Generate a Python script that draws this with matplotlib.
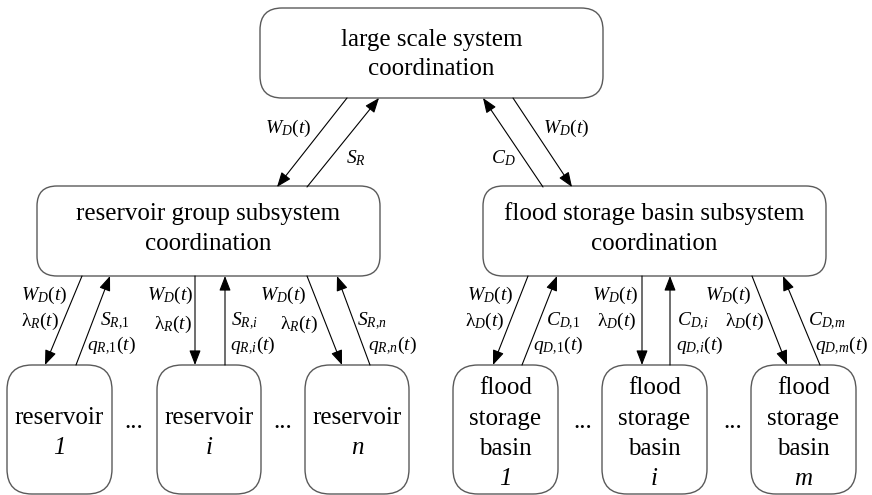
import matplotlib.pyplot as plt
from matplotlib.patches import FancyBboxPatch

plt.rcParams['font.family'] = ['Liberation Serif', 'DejaVu Serif']
plt.rcParams['mathtext.fontset'] = 'custom'
plt.rcParams['mathtext.rm'] = 'Liberation Serif'
plt.rcParams['mathtext.it'] = 'Liberation Serif:italic'
plt.rcParams['mathtext.cal'] = 'Liberation Serif:italic'

# boxes: (x0, y0, x1, y1, rounding), text lines
top_box = (260, 8, 603, 98, 22)
top_lines = ["large scale system", "coordination"]

mid_boxes = [(37, 186, 380, 276, 20), (483, 186, 826, 276, 20)]
mid_lines = [["reservoir group subsystem", "coordination"],
             ["flood storage basin subsystem", "coordination"]]

res_x = [(7, 112), (157, 261), (305, 409)]
res_idx = ["1", "i", "n"]
basin_x = [(453, 558), (602, 707), (751, 856)]
basin_idx = ["1", "i", "m"]
low_y = (365, 494)
dots_x = [134, 283, 583, 733]

# arrows: (x_start, y_start, x_end, y_end) arrow head at end
top_arrows = [(347, 98, 277, 187), (307, 187, 379, 98),
              (543, 187, 483, 98), (513, 98, 572, 187)]
top_labels = [(288, 128, r"$W_D(t)$"), (356, 158, r"$S_R$"),
              (503, 158, r"$C_D$"), (566, 128, r"$W_D(t)$")]

low_arrows = [(82, 276, 45, 365), (76, 365, 110, 276),
              (195, 276, 195, 365), (225, 365, 225, 276),
              (307, 276, 342, 365), (370, 365, 337, 276),
              (528, 276, 493, 365), (522, 365, 557, 276),
              (642, 276, 642, 365), (670, 365, 670, 276),
              (752, 276, 787, 365), (820, 365, 783, 276)]

lam = r"\mathrm{\lambda}"
down_top = [r"$W_D(t)$"] * 6
down_bot = [rf"${lam}_R(t)$"] * 3 + [rf"${lam}_D(t)$"] * 3
up_top = [r"$S_{R,\!\mathit{1}}$", r"$S_{R,\!i}$", r"$S_{R,\!n}$",
          r"$C_{D,\!\mathit{1}}$", r"$C_{D,\!i}$", r"$C_{D,\!m}$"]
up_bot = [r"$q_{R,\!\mathit{1}}(t)$", r"$q_{R,\!i}(t)$", r"$q_{R,\!n}(t)$",
          r"$q_{D,\!\mathit{1}}(t)$", r"$q_{D,\!i}(t)$", r"$q_{D,\!m}(t)$"]
down_top_pos = [(44, 295), (170, 295), (283, 295), (490, 295), (615, 295), (728, 295)]
down_bot_pos = [(40, 321), (173, 324), (299, 324), (485, 321), (617, 321), (745, 321)]
up_top_pos = [(115, 321), (245, 321), (372, 321), (563, 321), (693, 321), (827, 321)]
up_bot_pos = [(111, 346), (253, 346), (392, 346), (558, 346), (700, 346), (842, 346)]

fig = plt.figure(figsize=(8.72, 4.95), dpi=100)
ax = fig.add_axes([0, 0, 1, 1])
ax.set_xlim(0, 872)
ax.set_ylim(495, 0)
ax.axis('off')

edge = '#5a5a5a'
fs_box = 18
fs_lab = 14


def rbox(x0, y0, x1, y1, r):
    p = FancyBboxPatch((x0, y0), x1 - x0, y1 - y0,
                       boxstyle=f"round,pad=0,rounding_size={r}",
                       fc='white', ec=edge, lw=1.0, clip_on=False)
    ax.add_patch(p)


def arrow(x0, y0, x1, y1):
    ax.annotate("", xy=(x1, y1), xytext=(x0, y0),
                arrowprops=dict(arrowstyle="-|>,head_length=0.9,head_width=0.35",
                                color='black', lw=0.8, shrinkA=0, shrinkB=0))


rbox(*top_box)
cx = (top_box[0] + top_box[2]) / 2
ax.text(cx, 40, top_lines[0], ha='center', va='center', fontsize=fs_box)
ax.text(cx, 69, top_lines[1], ha='center', va='center', fontsize=fs_box)

for b, lines in zip(mid_boxes, mid_lines):
    rbox(*b)
    cx = (b[0] + b[2]) / 2
    ax.text(cx, 214, lines[0], ha='center', va='center', fontsize=fs_box)
    ax.text(cx, 244, lines[1], ha='center', va='center', fontsize=fs_box)

for (x0, x1), idx in zip(res_x, res_idx):
    rbox(x0, low_y[0], x1, low_y[1], 25)
    cx = (x0 + x1) / 2
    ax.text(cx, 418, "reservoir", ha='center', va='center', fontsize=fs_box)
    ax.text(cx, 448, idx, ha='center', va='center', fontsize=fs_box, style='italic')

for (x0, x1), idx in zip(basin_x, basin_idx):
    rbox(x0, low_y[0], x1, low_y[1], 25)
    cx = (x0 + x1) / 2
    ax.text(cx, 388, "flood", ha='center', va='center', fontsize=fs_box)
    ax.text(cx, 419, "storage", ha='center', va='center', fontsize=fs_box)
    ax.text(cx, 449, "basin", ha='center', va='center', fontsize=fs_box)
    ax.text(cx, 479, idx, ha='center', va='center', fontsize=fs_box, style='italic')

for x in dots_x:
    ax.text(x, 422, "...", ha='center', va='center', fontsize=fs_box)

for a in top_arrows + low_arrows:
    arrow(*a)

for x, y, s in top_labels:
    ax.text(x, y, s, ha='center', va='center', fontsize=fs_lab)

for pos, labs in [(down_top_pos, down_top), (down_bot_pos, down_bot),
                  (up_top_pos, up_top), (up_bot_pos, up_bot)]:
    for (x, y), s in zip(pos, labs):
        ax.text(x, y, s, ha='center', va='center', fontsize=fs_lab)

fig.savefig("out.png", dpi=100)
